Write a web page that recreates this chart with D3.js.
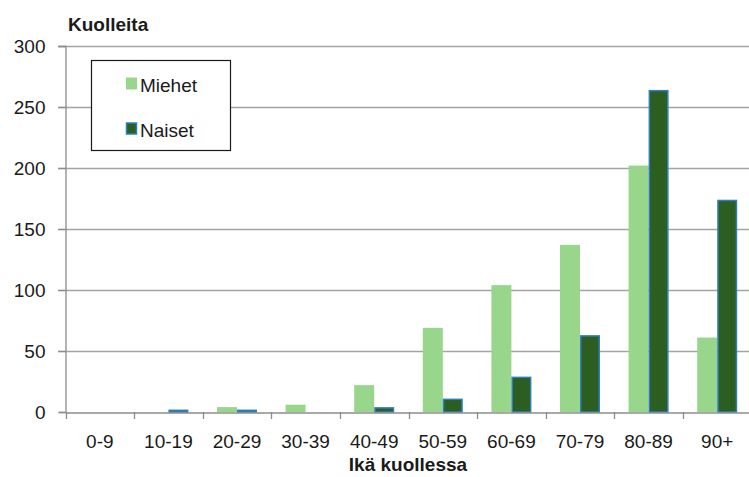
<!DOCTYPE html>
<html><head><meta charset="utf-8">
<script src="https://cdn.jsdelivr.net/npm/d3@7"></script>
<style>
html,body{margin:0;padding:0;background:#fff;}
svg{display:block;}
text{font-family:"Liberation Sans",Arial,sans-serif;fill:#1a1a1a;}
</style></head>
<body>
<script>
const categories = ["0-9","10-19","20-29","30-39","40-49","50-59","60-69","70-79","80-89","90+"];
const seriesNames = ["Miehet","Naiset"];
const miehet = [0,0,4,6,22,69,104,137,202,61];
const naiset = [0,2,2,0,4,11,29,63,264,174];
const yTicks = [0,50,100,150,200,250,300];
const colors = {Miehet:"#98d68c", Naiset:"#2b5e20"};

const W=749,H=477;
const svg=d3.select("body").append("svg").attr("width",W).attr("height",H);
const x=d3.scaleBand().domain(categories).range([65.5,751.5]).padding(0);
const y=d3.scaleLinear().domain([0,300]).range([412,46]);
const bw=x.bandwidth();
const xs=d3.scaleBand().domain(seriesNames).range([bw/2-20,bw/2+20]).padding(0);

// gridlines
svg.append("g").selectAll("line").data(yTicks.filter(d=>d>0)).join("line")
  .attr("x1",58).attr("x2",W).attr("y1",d=>Math.round(y(d))+0.5).attr("y2",d=>Math.round(y(d))+0.5)
  .attr("stroke","#a3a3a3").attr("stroke-width",1.3);

// y axis
const yAxis=d3.axisLeft(y).tickValues(yTicks).tickSize(7).tickPadding(13);
const gy=svg.append("g").attr("transform","translate(65.5,0)").call(yAxis);
gy.select(".domain").attr("stroke","#8c8c8c").attr("stroke-width",1.3);
gy.selectAll(".tick line").attr("stroke","#8c8c8c").attr("stroke-width",1.3);
gy.selectAll("text").style("font-size","19px").attr("fill","#1a1a1a");

// bars
const data=categories.map((c,i)=>({c,vals:[{s:"Miehet",v:miehet[i]},{s:"Naiset",v:naiset[i]}]}));
const gBars=svg.append("g");
data.forEach(d=>{
  d.vals.forEach(e=>{
    if(e.v<=0) return;
    const r=gBars.append("rect")
      .attr("x",x(d.c)+xs(e.s)).attr("width",xs.bandwidth())
      .attr("y",y(e.v)).attr("height",y(0)-y(e.v))
      .attr("fill",colors[e.s]);
    if(e.s==="Naiset"){
      r.attr("x",x(d.c)+xs(e.s)+0.75).attr("width",xs.bandwidth()-1.5)
       .attr("y",y(e.v)+0.75).attr("height",Math.max(0,y(0)-y(e.v)-0.75))
       .attr("stroke","#2f7fc0").attr("stroke-width",1.5);
    }
  });
});

// x axis
const xAxis=d3.axisBottom(x).tickSize(0).tickPadding(22);
const gx=svg.append("g").attr("transform","translate(0,412.5)").call(xAxis);
gx.select(".domain").attr("stroke","#8c8c8c").attr("stroke-width",1.3);
gx.selectAll("text").style("font-size","19px").attr("fill","#1a1a1a");
// category boundary ticks
svg.append("g").selectAll("line").data(categories.concat(["end"])).join("line")
  .attr("x1",(d,i)=>i<categories.length?Math.round(x(d))+0.5:751.5)
  .attr("x2",(d,i)=>i<categories.length?Math.round(x(d))+0.5:751.5)
  .attr("y1",412).attr("y2",419).attr("stroke","#8c8c8c").attr("stroke-width",1.3);

// titles
svg.append("text").attr("x",68).attr("y",31).text("Kuolleita")
  .style("font-size","19px").style("font-weight","bold");
svg.append("text").attr("x",408).attr("y",471).attr("text-anchor","middle").text("Ikä kuollessa")
  .style("font-size","19px").style("font-weight","bold");

// legend
const lg=svg.append("g");
lg.append("rect").attr("x",91.5).attr("y",60.5).attr("width",139).attr("height",90)
  .attr("fill","#fff").attr("stroke","#1a1a1a").attr("stroke-width",1.2);
const legY=[84,129];
seriesNames.forEach((s,i)=>{
  const sw=lg.append("rect").attr("x",126).attr("y",legY[i]-6.5).attr("width",11).attr("height",12).attr("fill",colors[s]);
  if(s==="Naiset") sw.attr("stroke","#2f7fc0").attr("stroke-width",1.5).attr("x",126.5).attr("width",10).attr("y",legY[i]-6).attr("height",11);
  lg.append("text").attr("x",140).attr("y",legY[i]+7.5).text(s).style("font-size","19px");
});
</script>
</body></html>
